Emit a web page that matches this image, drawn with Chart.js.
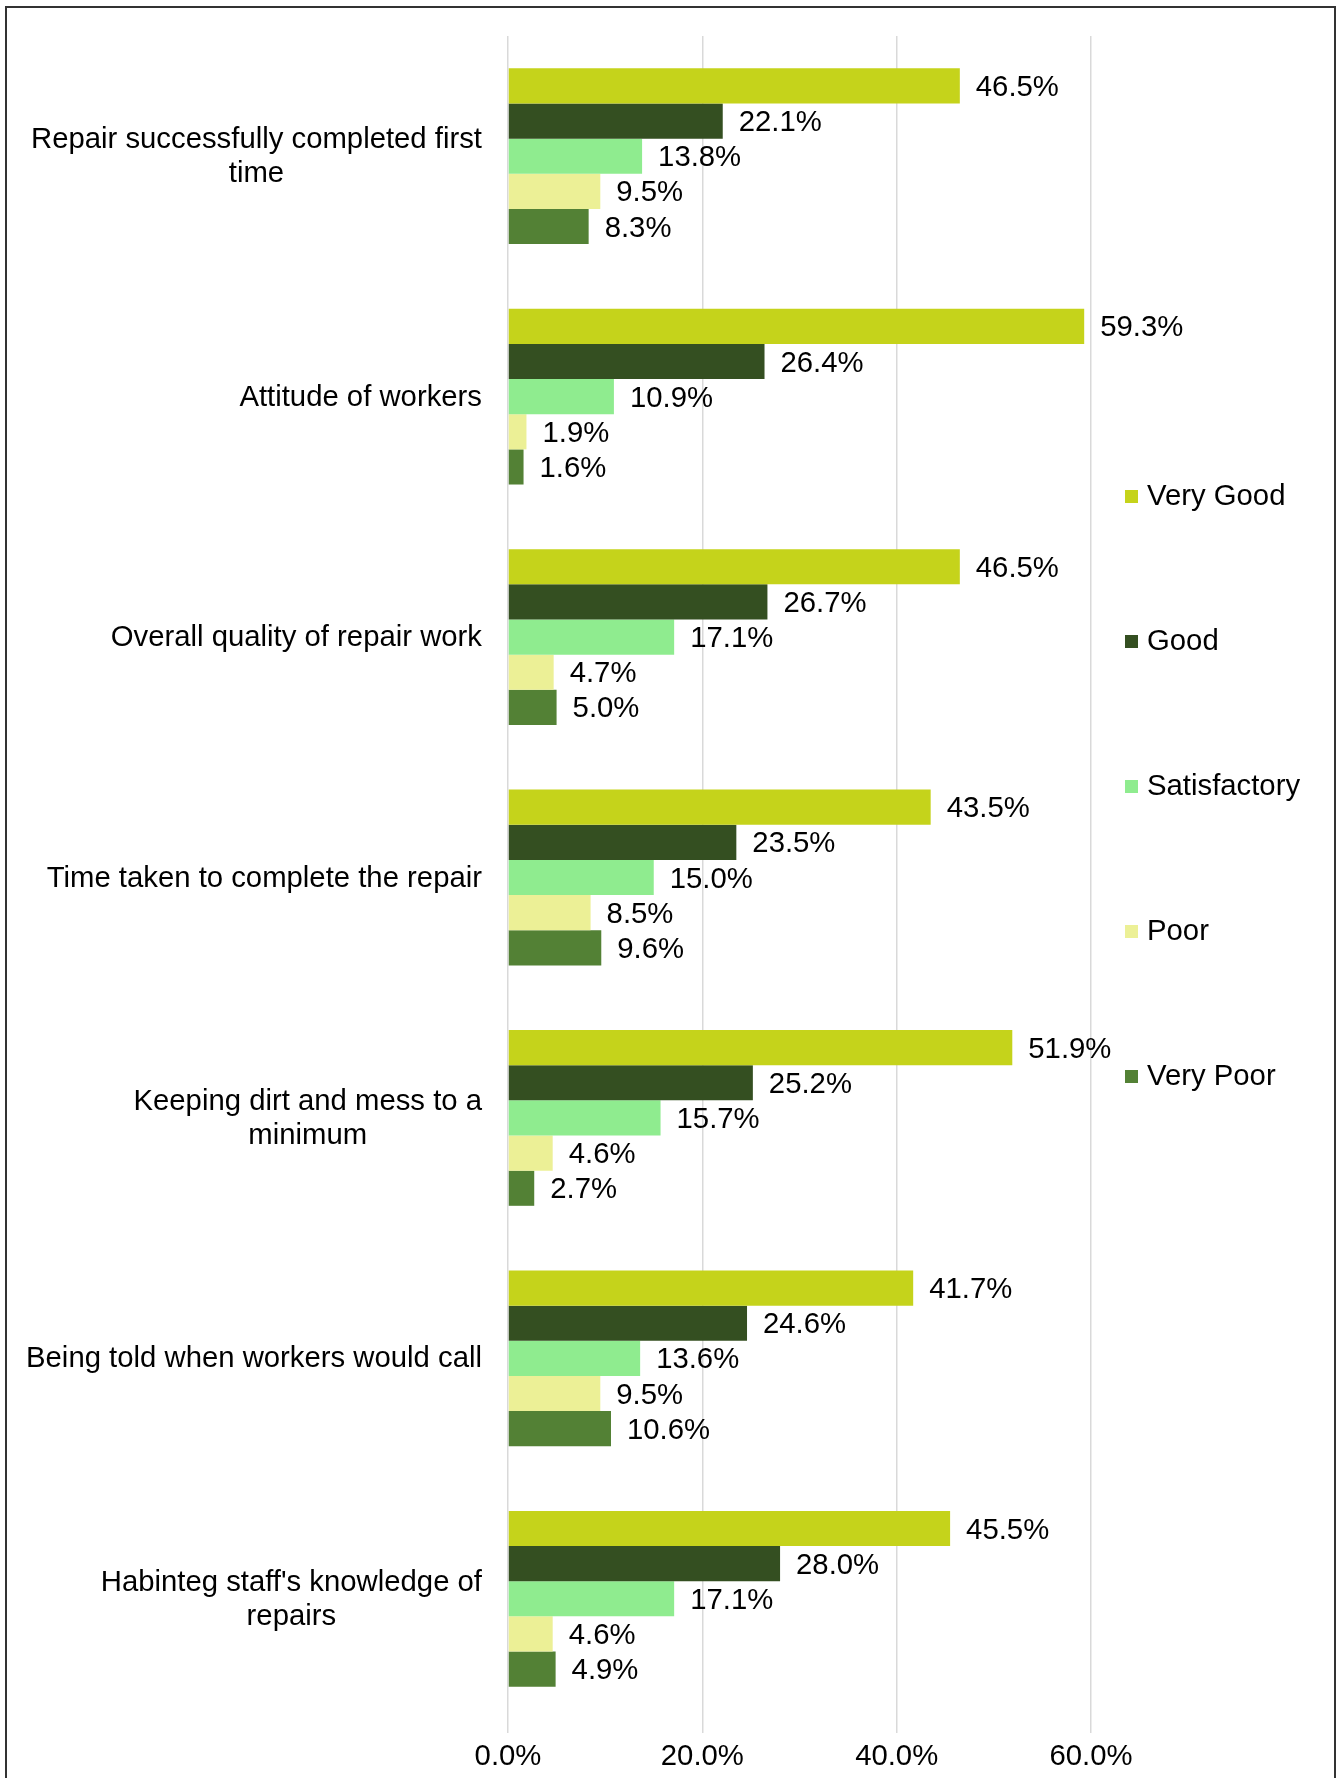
<!DOCTYPE html>
<html>
<head>
<meta charset="utf-8">
<script src="https://cdn.jsdelivr.net/npm/chart.js@4.4.0/dist/chart.umd.min.js"></script>
<style>
  body { margin: 0; background: #fff; }
  canvas { display: block; }
</style>
</head>
<body>
<canvas id="repairChart" width="1343" height="1778"></canvas>
<script>
// survey categories (multi-line where the label wraps)
var categories = [
     ["Repair successfully completed first", "time"],
     ["Attitude of workers"],
     ["Overall quality of repair work"],
     ["Time taken to complete the repair"],
     ["Keeping dirt and mess to a", "minimum"],
     ["Being told when workers would call"],
     ["Habinteg staff's knowledge of", "repairs"]
];

var veryGood     = [46.5, 59.3, 46.5, 43.5, 51.9, 41.7, 45.5];
var good         = [22.1, 26.4, 26.7, 23.5, 25.2, 24.6, 28.0];
var satisfactory = [13.8, 10.9, 17.1, 15.0, 15.7, 13.6, 17.1];
var poor         = [9.5, 1.9, 4.7, 8.5, 4.6, 9.5, 4.6];
var veryPoor     = [8.3, 1.6, 5.0, 9.6, 2.7, 10.6, 4.9];

var seriesNames = ["Very Good", "Good", "Satisfactory", "Poor", "Very Poor"];
var xTicks = [0, 20, 40, 60];

var FONT = '29.3px "Liberation Sans", Arial, sans-serif';

// outer frame + white background
var framePlugin = {
     id: 'frame',
     beforeDraw: function(chart) {
          var ctx = chart.ctx;
          ctx.save();
          ctx.fillStyle = '#fff';
          ctx.fillRect(0, 0, chart.width, chart.height);
          ctx.strokeStyle = '#333';
          ctx.lineWidth = 2;
          ctx.strokeRect(6, 7, 1329, 1800);
          ctx.restore();
     }
};

// value labels to the right of each bar
var valueLabels = {
     id: 'valueLabels',
     afterDatasetsDraw: function(chart) {
          var ctx = chart.ctx;
          ctx.save();
          ctx.font = FONT;
          ctx.fillStyle = '#000';
          ctx.textAlign = 'left';
          ctx.textBaseline = 'middle';
          chart.data.datasets.forEach(function(ds, i) {
               chart.getDatasetMeta(i).data.forEach(function(bar, j) {
                    ctx.fillText(ds.data[j].toFixed(1) + '%', bar.x + 16, bar.y + 2);
               });
          });
          ctx.restore();
     }
};

// category labels: block right-aligned, lines centred within the block
var categoryLabels = {
     id: 'categoryLabels',
     afterDraw: function(chart) {
          var ctx = chart.ctx;
          var yScale = chart.scales.y;
          var right = chart.chartArea.left - 26;
          var lineH = 34;
          ctx.save();
          ctx.font = FONT;
          ctx.fillStyle = '#000';
          ctx.textAlign = 'center';
          ctx.textBaseline = 'middle';
          categories.forEach(function(lines, i) {
               var widest = Math.max.apply(null, lines.map(function(l) { return ctx.measureText(l).width; }));
               var cx = right - widest / 2;
               var top = yScale.getPixelForTick(i) - (lines.length - 1) * lineH / 2 + 1;
               lines.forEach(function(l, k) {
                    ctx.fillText(l, cx, top + k * lineH);
               });
          });
          ctx.restore();
     }
};

// legend stacked down the right-hand side
var sideLegend = {
     id: 'sideLegend',
     afterDraw: function(chart) {
          var ctx = chart.ctx;
          ctx.save();
          ctx.font = FONT;
          ctx.textAlign = 'left';
          ctx.textBaseline = 'middle';
          chart.data.datasets.forEach(function(ds, i) {
               var y = 496 + i * 145;
               ctx.fillStyle = ds.backgroundColor;
               ctx.fillRect(1125, y - 6, 13, 13);
               ctx.fillStyle = '#000';
               ctx.fillText(ds.label, 1147, y + 1);
          });
          ctx.restore();
     }
};

function makeSet(label, data, colour) {
     return {
          label: label,
          data: data,
          backgroundColor: colour,
          hoverBackgroundColor: colour,
          borderWidth: 0,
          categoryPercentage: 0.731,
          barPercentage: 1.0
     };
}

new Chart('repairChart', {
     type: 'bar',
     data: {
          labels: categories.map(function(c) { return c.join(' '); }),
          datasets: [
               makeSet(seriesNames[0], veryGood, '#C5D31B'),
               makeSet(seriesNames[1], good, '#344F21'),
               makeSet(seriesNames[2], satisfactory, '#8FEC8F'),
               makeSet(seriesNames[3], poor, '#ECF096'),
               makeSet(seriesNames[4], veryPoor, '#538135')
          ]
     },
     options: {
          indexAxis: 'y',
          responsive: false,
          animation: false,
          layout: {
               padding: { top: 36, right: 252, bottom: 0, left: 0 }
          },
          plugins: {
               legend: { display: false },
               tooltip: { enabled: false }
          },
          scales: {
               x: {
                    min: 0,
                    max: 60,
                    afterBuildTicks: function(scale) {
                         scale.ticks = xTicks.map(function(v) { return { value: v }; });
                    },
                    afterFit: function(scale) { scale.height = 59; },
                    grid: {
                         color: '#D9D9D9',
                         lineWidth: 1.5,
                         drawTicks: true,
                         tickLength: 14
                    },
                    border: { display: false },
                    ticks: {
                         padding: 6,
                         color: '#000',
                         font: { family: '"Liberation Sans", Arial, sans-serif', size: 29.3 },
                         callback: function(v) { return v.toFixed(1) + '%'; }
                    }
               },
               y: {
                    afterFit: function(scale) { scale.width = 508; },
                    grid: { display: false },
                    border: { display: false },
                    ticks: { display: false }
               }
          }
     },
     plugins: [framePlugin, valueLabels, categoryLabels, sideLegend]
});
</script>
</body>
</html>
